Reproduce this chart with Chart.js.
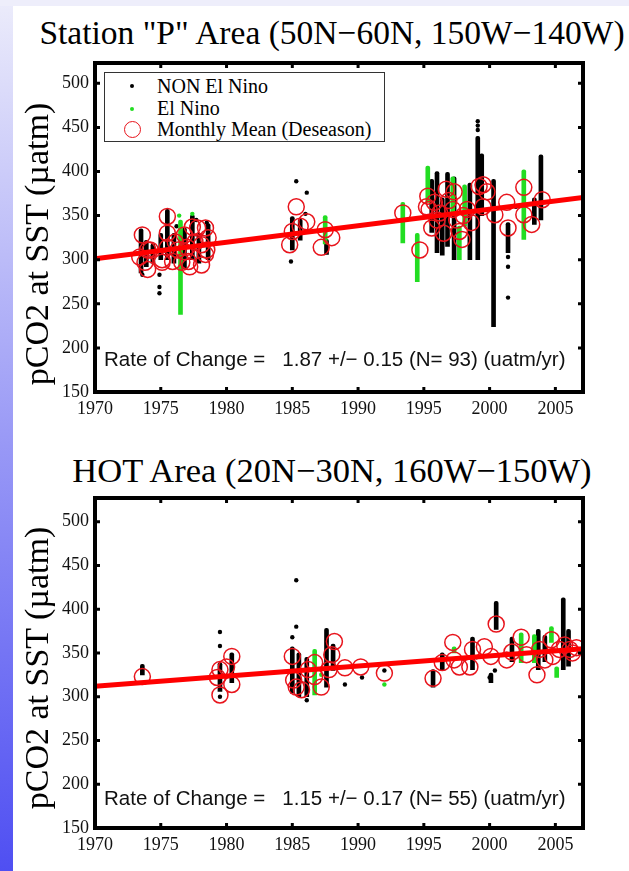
<!DOCTYPE html>
<html><head><meta charset="utf-8">
<script src="https://cdn.jsdelivr.net/npm/chart.js@4/dist/chart.umd.min.js"></script>
<style>
html,body{margin:0;padding:0;}
body{width:629px;height:871px;position:relative;overflow:hidden;background:#fff;font-family:'Liberation Serif','Times New Roman',serif;color:#000;}
#bgleft{position:absolute;left:0;top:0;width:13px;height:871px;background:linear-gradient(#ececfb,#9a9af6 50%,#4f4ff2);}
#bgtop{position:absolute;left:0;top:0;width:629px;height:6px;background:#eeeefb;}
.cv{position:absolute;left:0;}
.title{position:absolute;left:0;width:664px;text-align:center;line-height:34px;white-space:nowrap;}
.ylab{position:absolute;font-size:34px;line-height:34px;white-space:nowrap;transform:translate(-50%,-50%) rotate(-90deg);}
.rate{position:absolute;left:104px;font-family:'Liberation Sans',Arial,sans-serif;font-size:20.5px;line-height:22px;white-space:pre;color:#111;}
#legend{position:absolute;left:104px;top:72px;width:279px;height:68px;border:1px solid #333;background:#fff;}
.lg{position:absolute;left:52px;font-size:20px;line-height:22px;white-space:nowrap;}
.mk{position:absolute;border-radius:50%;}
</style>
</head>
<body>
<div id="bgleft"></div><div id="bgtop"></div>
<div class="title" style="top:16px;font-size:33.5px">Station "P" Area (50N−60N, 150W−140W)</div>
<div class="title" style="top:453px;font-size:34.5px">HOT Area (20N−30N, 160W−150W)</div>
<canvas id="c1" class="cv" width="629" height="400" style="top:40px"></canvas>
<canvas id="c2" class="cv" width="629" height="400" style="top:475px"></canvas>
<div class="ylab" style="left:37px;top:244px">pCO2 at SST (µatm)</div>
<div class="ylab" style="left:37px;top:668px">pCO2 at SST (µatm)</div>
<div id="legend">
  <div class="mk" style="left:25px;top:11px;width:4px;height:4px;background:#000"></div>
  <div class="lg" style="top:2px">NON El Nino</div>
  <div class="mk" style="left:25px;top:34px;width:4px;height:4px;background:#22dd22"></div>
  <div class="lg" style="top:24px">El Nino</div>
  <div class="mk" style="left:19px;top:48px;width:15px;height:15px;border:1.5px solid #e8141c"></div>
  <div class="lg" style="top:45px">Monthly Mean (Deseason)</div>
</div>
<div class="rate" style="top:348px">Rate of Change =   1.87 +/− 0.15 (N= 93) (uatm/yr)</div>
<div class="rate" style="top:787px">Rate of Change =   1.15 +/− 0.17 (N= 55) (uatm/yr)</div>
<script>
// ---- shared axis ticks ----
const xTicks = [1970, 1975, 1980, 1985, 1990, 1995, 2000, 2005];
const yTicks = [150, 200, 250, 300, 350, 400, 450, 500];

// ---- Station "P" (top) ----
const pMeans = [
 [1973.4,303],[1973.6,328],[1973.8,297],[1974.0,311],[1974.0,289],[1974.2,311],[1975.1,297],[1975.1,300],
 [1975.5,349],[1975.5,330],[1975.5,314],[1975.9,298],[1976.1,320],[1976.3,311],[1976.6,297],[1976.8,328],
 [1976.8,309],[1977.0,314],[1977.1,298],[1977.2,292],[1977.4,337],[1977.6,320],[1977.8,336],[1978.1,317],
 [1978.1,294],[1978.4,336],[1978.4,306],[1978.6,325],[1978.5,311],
 [1984.8,317],[1985.0,332],[1985.3,360],[1985.6,338],[1986.1,343],[1987.2,314],[1987.5,334],[1988.0,325],
 [1993.4,353],[1994.7,311],[1995.2,360],[1995.3,372],[1995.4,357],[1995.6,336],[1995.8,365],[1996.0,345],
 [1996.2,353],[1996.5,330],[1996.7,380],[1996.9,367],[1997.2,357],[1997.3,377],[1997.5,345],[1997.7,332],
 [1997.9,323],[1998.0,350],[1998.3,357],[1998.6,342],[1999.2,383],[1999.5,385],[1999.5,360],[1999.8,377],
 [2000.4,351],[2001.3,365],[2001.4,336],[2002.6,382],[2002.6,351],[2003.2,340],[2004.0,368]
];
const pBlackStreaks = [
 [1973.5,285,335],[1973.9,292,322],[1974.4,296,318],[1975.0,300,330],[1975.5,300,357],[1976.0,296,330],
 [1976.8,290,336],[1977.4,300,351],[1977.9,296,330],[1978.6,300,341],
 [1985.0,311,349],[1985.6,322,346],[1987.6,306,323],
 [1995.6,331,391],[1996.0,308,400],[1996.4,305,370],[1996.8,315,399],[1997.3,300,394],[1998.5,300,387],
 [1999.1,300,440],[1999.4,350,420],[2000.3,224,391],[2001.4,308,342],[2003.4,340,370],[2003.9,345,419]
];
const pBlackDots = [
 [1974.9,283],[1974.9,269],[1974.9,262],[1973.6,283],[1978.5,342],[1985.3,389],[1986.1,376],[1984.9,298],
 [1986.0,352],[1999.1,447],[1999.1,452],[1999.1,457],[2001.4,303],[2001.4,292],[2001.4,257],[2002.0,360],
 [1976.2,338],[1977.7,345]
];
const pGreenStreaks = [
 [1976.5,238,345],[1987.5,318,350],[1993.4,319,365],[1994.5,275,330],[1995.3,365,406],[1997.2,353,394],
 [1997.7,300,338],[1998.1,338,385],[2002.6,323,402]
];
const pGreenDots = [[1977.4,352],[1976.4,350]];
const pTrend = [[1970,301],[2007.1,370.4]];

// ---- HOT (bottom) ----
const hMeans = [
 [1973.6,323],[1979.3,322],[1979.5,331],[1979.5,302],[1980.0,334],[1980.4,346],[1980.4,314],
 [1985.0,346],[1985.1,319],[1985.3,311],[1985.7,308],[1986.2,331],[1986.7,339],[1986.7,323],[1987.2,311],
 [1987.8,331],[1988.0,348],[1988.2,363],[1989.0,333],[1990.2,334],[1992.0,327],
 [1995.7,321],[1996.4,339],[1997.2,362],[1997.3,342],[1997.7,334],[1998.5,334],[1998.7,354],[1999.6,357],
 [2000.1,346],[2000.5,383],[2001.3,342],[2001.7,351],[2002.4,368],[2002.8,348],[2003.6,325],[2003.8,354],
 [2004.2,342],[2004.7,365],[2004.8,346],[2005.3,354],[2005.7,359],[2006.1,354],[2006.3,350],[2006.6,356]
];
const hBlackStreaks = [
 [1973.6,325,337],[1979.5,306,339],[1980.4,316,350],[1985.0,304,357],[1985.5,300,350],[1986.1,300,345],
 [1987.6,311,378],[1988.1,330,360],[1995.7,311,331],[1996.4,330,350],[1998.7,331,368],[2000.1,316,327],
 [2000.5,377,409],[2001.7,340,368],[2003.7,331,377],[2004.2,340,370],[2005.6,331,413],[2006.0,335,377]
];
const hBlackDots = [
 [1979.5,374],[1979.5,358],[1979.5,300],[1985.3,433],[1985.3,380],[1985.0,368],[1986.1,296],[1989.0,314],
 [1990.3,322],[1992.0,330],[1999.0,345],[2000.0,322],[2000.4,330]
];
const hGreenStreaks = [[1986.7,302,354],[1997.3,350,357],[2002.4,339,373],[2003.4,339,371],[2004.7,362,380],[2005.1,322,334]];
const hGreenDots = [[1992.0,314],[1987.2,325]];
const hTrend = [[1970,312],[2007.1,354.7]];

const BLACK = '#000000', GREEN = '#22dd22', RED = '#e8141c';

const framePlugin = {
  id: 'frame',
  afterDatasetsDraw(chart) {
    const {ctx, chartArea: a, scales: {x, y}} = chart;
    ctx.save();
    ctx.strokeStyle = '#000';
    ctx.lineWidth = 3;
    const L = 5;
    ctx.beginPath();
    x.ticks.forEach(t => { const px = x.getPixelForValue(t.value);
      ctx.moveTo(px, a.bottom); ctx.lineTo(px, a.bottom - L);
      ctx.moveTo(px, a.top); ctx.lineTo(px, a.top + L); });
    y.ticks.forEach(t => { const py = y.getPixelForValue(t.value);
      ctx.moveTo(a.left, py); ctx.lineTo(a.left + L, py);
      ctx.moveTo(a.right, py); ctx.lineTo(a.right - L, py); });
    ctx.stroke();
    ctx.lineWidth = 4;
    ctx.strokeRect(a.left, a.top, a.right - a.left, a.bottom - a.top);
    ctx.restore();
  }
};

const pts = arr => arr.map(([x, y]) => ({x, y}));
const bars = arr => arr.map(([x, lo, hi]) => ({x, y: [lo, hi]}));

function makeChart(id, d, yMax, axisH) {
  return new Chart(document.getElementById(id), {
    type: 'scatter',
    data: { datasets: [
      { type: 'line', data: pts(d.trend), borderColor: '#ff0000', borderWidth: 5, pointRadius: 0, order: 0, borderCapStyle: 'butt' },
      { type: 'scatter', data: pts(d.means), pointRadius: 8, borderColor: RED, borderWidth: 1.5, backgroundColor: 'rgba(0,0,0,0)', order: 1 },
      { type: 'bar', data: bars(d.greenStreaks), backgroundColor: GREEN, barThickness: 4, grouped: false, borderRadius: 2, order: 2 },
      { type: 'scatter', data: pts(d.greenDots), pointRadius: 2.2, backgroundColor: GREEN, borderWidth: 0, order: 2 },
      { type: 'bar', data: bars(d.blackStreaks), backgroundColor: BLACK, barThickness: 4, grouped: false, borderRadius: 2, order: 3 },
      { type: 'scatter', data: pts(d.blackDots), pointRadius: 2.2, backgroundColor: BLACK, borderWidth: 0, order: 3 }
    ]},
    options: {
      responsive: false, animation: false, devicePixelRatio: 1,
      layout: { padding: { left: 0, right: 46, top: 23, bottom: 0 } },
      plugins: { legend: { display: false }, tooltip: { enabled: false } },
      scales: {
        x: { type: 'linear', min: 1970, max: 2007.1, offset: false,
          afterBuildTicks: s => { s.ticks = xTicks.map(v => ({value: v})); },
          afterFit: s => { s.height = axisH; },
          grid: { display: false, drawTicks: false }, border: { display: false },
          ticks: { padding: 6, autoSkip: false, maxRotation: 0, color: '#111',
            font: { family: 'Liberation Serif', size: 18 }, callback: v => String(v) } },
        y: { type: 'linear', min: 150, max: yMax,
          afterBuildTicks: s => { s.ticks = yTicks.map(v => ({value: v})); },
          afterFit: s => { s.width = 95; },
          grid: { display: false, drawTicks: false }, border: { display: false },
          ticks: { padding: 6, color: '#111', font: { family: 'Liberation Serif', size: 18 }, callback: v => String(v) } }
      }
    },
    plugins: [framePlugin]
  });
}

makeChart('c1', { trend: pTrend, means: pMeans, greenStreaks: pGreenStreaks, greenDots: pGreenDots,
  blackStreaks: pBlackStreaks, blackDots: pBlackDots }, 523, 48);
makeChart('c2', { trend: hTrend, means: hMeans, greenStreaks: hGreenStreaks, greenDots: hGreenDots,
  blackStreaks: hBlackStreaks, blackDots: hBlackDots }, 527, 47);
</script>
</body></html>
